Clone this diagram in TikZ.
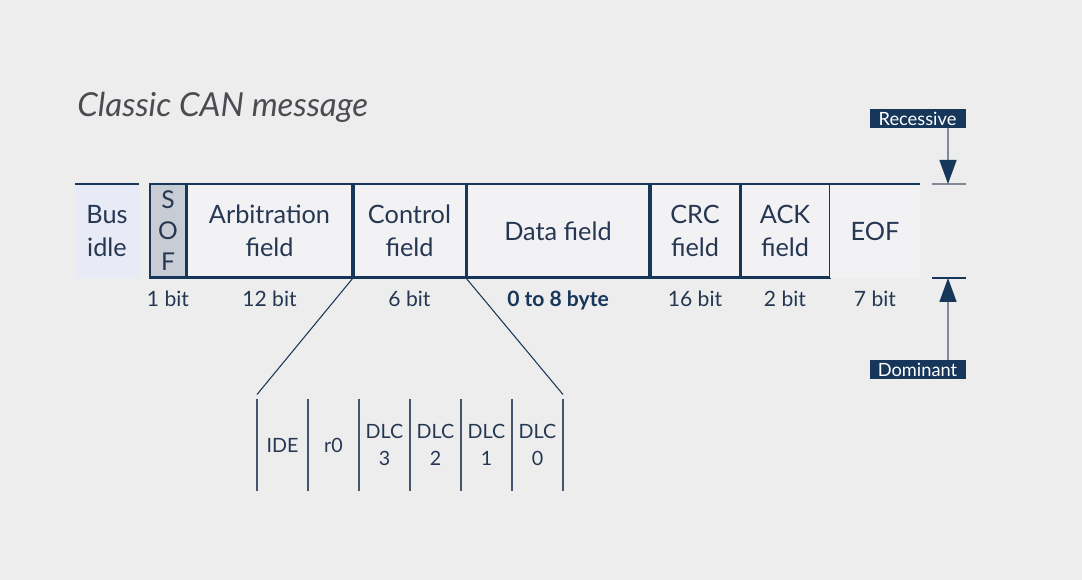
\documentclass[tikz,border=0pt]{standalone}
\usepackage{fontspec}
\setmainfont{Lato}
\usepackage{tikz}
\usetikzlibrary{arrows.meta, positioning}
\definecolor{navy}{RGB}{23, 55, 90}
\definecolor{textnavy}{RGB}{38, 55, 82}
\definecolor{titlegray}{RGB}{75, 75, 82}
\definecolor{canvas}{RGB}{237, 237, 237}
\definecolor{idlefill}{RGB}{232, 235, 246}
\definecolor{soffill}{RGB}{200, 204, 212}
\definecolor{fieldfill}{RGB}{242, 242, 245}
\definecolor{linegray}{RGB}{128, 138, 152}
\definecolor{subline}{RGB}{70, 85, 110}
\tikzstyle{field} = [rectangle, draw=navy, line width=1.7pt, fill=fieldfill, minimum height=1.88cm, inner sep=0pt, outer sep=0pt, align=center, text=textnavy, font=\fontsize{14.4}{18.7}\selectfont]
\tikzstyle{openfield} = [field, draw=none]
\tikzstyle{topline} = [draw=navy, line width=1.7pt]
\tikzstyle{bitlabel} = [anchor=base, inner sep=0pt, text=textnavy, font=\fontsize{12}{14}\selectfont]
\tikzstyle{subfield} = [rectangle, minimum width=1.02cm, minimum height=1.86cm, inner sep=0pt, outer sep=0pt, align=center, text=textnavy, font=\fontsize{11.2}{15.3}\selectfont]
\tikzstyle{sepline} = [draw=subline, line width=0.9pt]
\tikzstyle{zoomline} = [draw=navy, line width=0.6pt]
\tikzstyle{levelbox} = [rectangle, fill=navy, text=white, minimum width=1.92cm, minimum height=0.38cm, inner sep=0pt, font=\fontsize{10.4}{12}\selectfont]
\tikzstyle{levelarrow} = [draw=linegray, line width=0.9pt, -{Triangle[length=0.48cm, width=0.34cm, color=navy]}]
\tikzstyle{tick} = [draw=linegray, line width=0.9pt]
\begin{document}
\begin{tikzpicture}[x=0.02cm, y=-0.02cm]
    \useasboundingbox[fill=canvas] (0,0) rectangle (1082,580);

    % Title
    \node[anchor=base west, inner sep=0pt, text=titlegray, font=\fontsize{18.8}{22}\selectfont\itshape] (title) at (77,116.7) {Classic CAN message};

    % Bus idle
    \node[openfield, fill=idlefill, minimum width=1.28cm] (bus) at (107,231) {Bus\\idle};
    \draw[topline] (bus.north west) -- (bus.north east);

    % Frame fields
    \node[field, fill=soffill, minimum width=0.72cm, font=\fontsize{14}{17.6}\selectfont] (sof) at (168,231) {S\\O\\F};
    \node[field, minimum width=3.34cm] (arb) at (269.5,231) {Arbitration\\field};
    \node[field, minimum width=2.26cm] (ctrl) at (409.5,231) {Control\\field};
    \node[field, minimum width=3.68cm] (data) at (558,231) {Data field};
    \node[field, minimum width=1.8cm] (crc) at (695,231) {CRC\\field};
    \node[field, minimum width=1.8cm] (ack) at (785,231) {ACK\\field};
    \node[openfield, minimum width=1.8cm] (eof) at (875,231) {EOF};
    \draw[topline] (eof.north west) -- (eof.north east);

    % Field lengths
    \coordinate (bitrow) at (0,307);
    \node[bitlabel] (sofbits) at (sof.center |- bitrow) {1 bit};
    \node[bitlabel] (arbbits) at (arb.center |- bitrow) {12 bit};
    \node[bitlabel] (ctrlbits) at (ctrl.center |- bitrow) {6 bit};
    \node[bitlabel, text=navy, font=\fontsize{12}{14}\selectfont\bfseries] (databits) at (data.center |- bitrow) {0 to 8 byte};
    \node[bitlabel] (crcbits) at (crc.center |- bitrow) {16 bit};
    \node[bitlabel] (ackbits) at (ack.center |- bitrow) {2 bit};
    \node[bitlabel] (eofbits) at (eof.center |- bitrow) {7 bit};

    % Control field bits
    \foreach \txt [count=\i] in {IDE, r0, {DLC\\3}, {DLC\\2}, {DLC\\1}, {DLC\\0}}
        \node[subfield] (sub\i) at ({257+51*(\i-0.5)},445) {\txt};
    \foreach \i in {1,...,6}
        \draw[sepline] (sub\i.north west) -- (sub\i.south west);
    \draw[sepline] (sub6.north east) -- (sub6.south east);
    \draw[zoomline] (ctrl.south west) -- ([yshift=0.08cm]sub1.north west);
    \draw[zoomline] (ctrl.south east) -- ([yshift=0.08cm]sub6.north east);

    % Bus levels
    \node[levelbox] (rec) at (917.5,118.5) {Recessive};
    \node[levelbox] (dom) at (917.5,369.5) {Dominant};
    \coordinate (rectick) at (948,184);
    \coordinate (domtick) at (948,278);
    \draw[tick] ([xshift=-0.32cm]rectick) -- ([xshift=0.36cm]rectick);
    \draw[tick, draw=navy] ([xshift=-0.32cm]domtick) -- ([xshift=0.36cm]domtick);
    \draw[levelarrow] (rec.south -| rectick) -- (rectick);
    \draw[levelarrow] (dom.north -| domtick) -- (domtick);
\end{tikzpicture}
\end{document}
